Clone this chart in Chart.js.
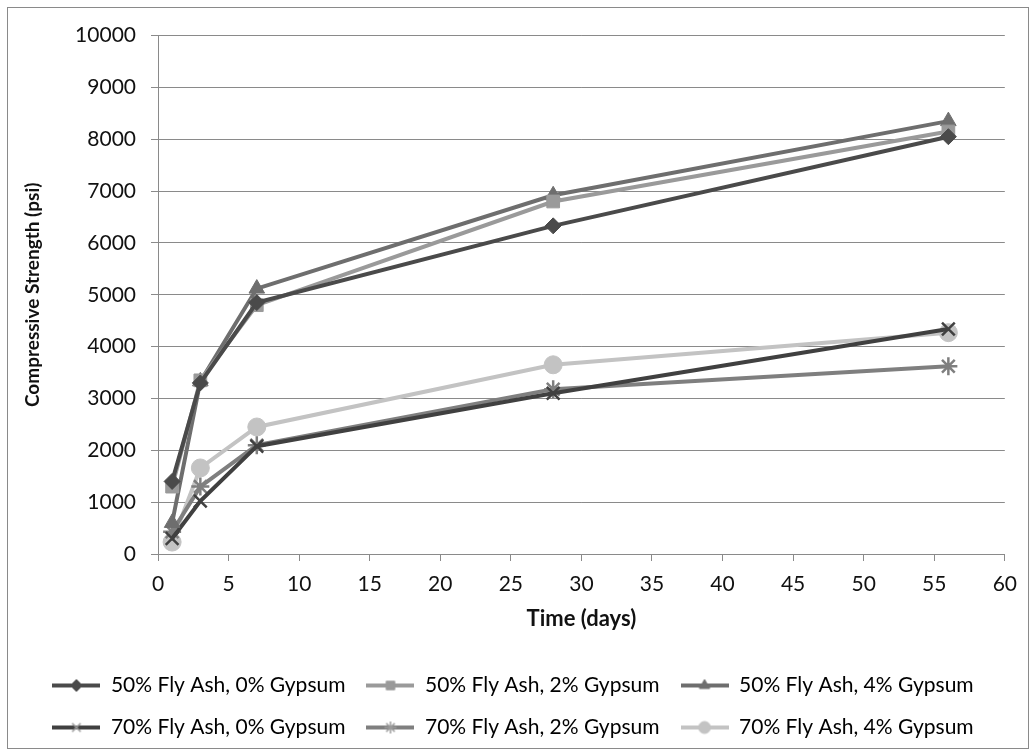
<!DOCTYPE html>
<html>
<head>
<meta charset="utf-8">
<script src="https://cdn.jsdelivr.net/npm/chart.js@4.4.1/dist/chart.umd.min.js"></script>
<style>
  body { margin: 0; background: #fff; }
  .chart-box {
    position: absolute; left: 7px; top: 7px;
    width: 1020px; height: 740px;
    border: 1px solid #8a8a8a; background: #fff;
  }
</style>
</head>
<body>
<div class="chart-box"><canvas id="strength"></canvas></div>
<script>
const days = [1, 3, 7, 28, 56];
const fa50gyp0 = [1400, 3300, 4850, 6330, 8050];
const fa50gyp2 = [1300, 3350, 4800, 6800, 8150];
const fa50gyp4 = [600, 3330, 5120, 6920, 8350];
const fa70gyp0 = [300, 1020, 2080, 3100, 4340];
const fa70gyp2 = [430, 1300, 2100, 3180, 3620];
const fa70gyp4 = [230, 1660, 2450, 3650, 4270];
const yTicks = [0, 1000, 2000, 3000, 4000, 5000, 6000, 7000, 8000, 9000, 10000];

const seriesNames = [
  "50% Fly Ash, 0% Gypsum", "50% Fly Ash, 2% Gypsum", "50% Fly Ash, 4% Gypsum",
  "70% Fly Ash, 0% Gypsum", "70% Fly Ash, 2% Gypsum", "70% Fly Ash, 4% Gypsum"
];
const seriesData = [fa50gyp0, fa50gyp2, fa50gyp4, fa70gyp0, fa70gyp2, fa70gyp4];
const lineColors = ["#4a4a4a", "#9a9a9a", "#6e6e6e", "#404040", "#7f7f7f", "#c3c3c3"];
const markers = ["rectRot", "rect", "triangle", "crossRot", "star", "circle"];
const markerSize = [8, 9, 9, 9, 9, 9];

function isStroke(i) {
  return markers[i] === "crossRot" || markers[i] === "star";
}

// small line+marker picture used as legend symbol
function legendSymbol(i) {
  const c = document.createElement("canvas");
  c.width = 48; c.height = 18;
  const g = c.getContext("2d");
  g.strokeStyle = lineColors[i];
  g.lineWidth = 4;
  g.beginPath(); g.moveTo(0, 9); g.lineTo(48, 9); g.stroke();
  g.fillStyle = lineColors[i];
  g.strokeStyle = isStroke(i) ? "#9a9a9a" : lineColors[i];
  g.lineWidth = isStroke(i) ? 1.5 : 1;
  Chart.helpers.drawPoint(g, {
    pointStyle: markers[i], radius: 6, rotation: 0, borderWidth: g.lineWidth
  }, 24, 9);
  return c;
}

const datasets = seriesNames.map((name, i) => ({
  label: name,
  data: days.map((d, j) => ({ x: d, y: seriesData[i][j] })),
  borderColor: lineColors[i],
  backgroundColor: lineColors[i],
  borderWidth: 4,
  pointStyle: markers[i],
  pointRadius: markerSize[i],
  pointHoverRadius: markerSize[i],
  pointBackgroundColor: lineColors[i],
  pointBorderColor: lineColors[i],
  pointBorderWidth: isStroke(i) ? 2.5 : 1,
  tension: 0
}));

const ctx = document.getElementById("strength").getContext("2d");
const textFont = "Lato, 'Open Sans', sans-serif";

const myChart = new Chart(ctx, {
  type: "line",
  data: { datasets: datasets },
  options: {
    responsive: true,
    maintainAspectRatio: false,
    animation: false,
    layout: { padding: { top: 21, right: 10, left: 0, bottom: 0 } },
    scales: {
      x: {
        type: "linear",
        min: 0, max: 60,
        ticks: {
          stepSize: 5, color: "#111",
          font: { family: textFont, size: 21 }, padding: 11
        },
        grid: { drawOnChartArea: false, drawTicks: true, tickLength: 7, color: "#8a8a8a" },
        border: { color: "#8a8a8a", width: 1 },
        title: {
          display: true, text: "Time (days)", color: "#111",
          font: { family: textFont, size: 22, weight: "bold" }, padding: { top: 8, bottom: 22 }
        },
        afterFit: (scale) => { scale.height = 100; }
      },
      y: {
        min: 0, max: 10000,
        afterBuildTicks: (scale) => { scale.ticks = yTicks.map((v) => ({ value: v })); },
        ticks: {
          color: "#111", font: { family: textFont, size: 21 }, padding: 15,
          callback: (value) => String(value)
        },
        grid: { color: "#8a8a8a", tickLength: 7 },
        border: { color: "#8a8a8a", width: 1 },
        title: {
          display: true, text: "Compressive Strength (psi)", color: "#111",
          font: { family: textFont, size: 19, weight: "bold" }, padding: { top: 13 }
        },
        afterFit: (scale) => { scale.width = 150; }
      }
    },
    plugins: {
      legend: {
        display: true,
        position: "bottom",
        labels: {
          color: "#111",
          font: { family: textFont, size: 21 },
          padding: 21,
          usePointStyle: true,
          pointStyleWidth: 48,
          generateLabels: (chart) => chart.data.datasets.map((ds, i) => ({
            text: ds.label,
            pointStyle: legendSymbol(i),
            fillStyle: ds.borderColor,
            strokeStyle: ds.borderColor,
            lineWidth: 0,
            datasetIndex: i
          }))
        }
      },
      tooltip: { enabled: false }
    }
  }
});
</script>
</body>
</html>
